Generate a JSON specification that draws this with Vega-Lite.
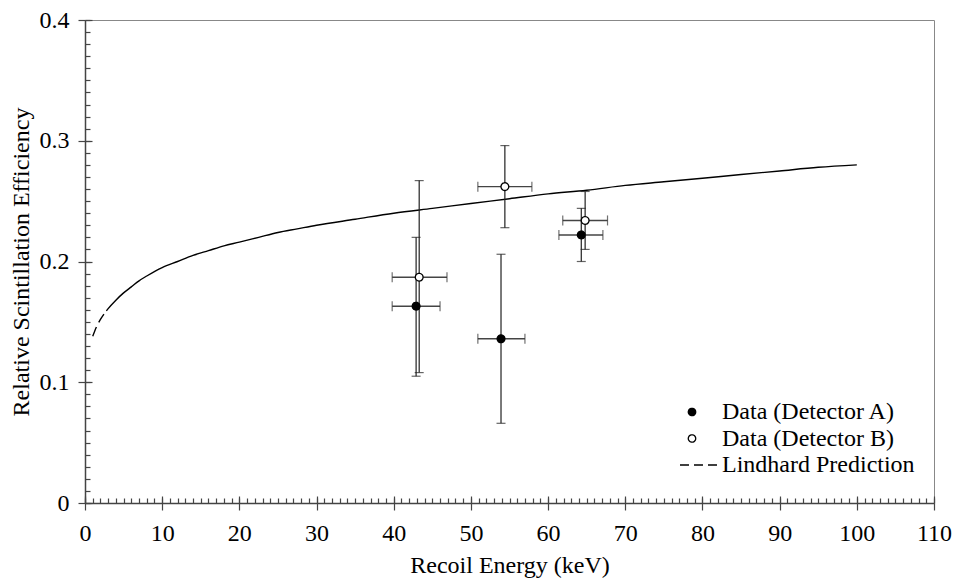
{
  "$schema": "https://vega.github.io/schema/vega-lite/v6.json",
  "width": 849,
  "height": 483,
  "autosize": {"type": "none"},
  "padding": {"left": 85, "top": 20, "right": 24, "bottom": 81},
  "background": "white",
  "config": {
    "font": "Liberation Serif",
    "view": {"stroke": "#888888", "strokeWidth": 1},
    "axis": {
      "grid": false,
      "domainColor": "#444444",
      "domainWidth": 1.5,
      "tickColor": "#444444",
      "tickWidth": 1.2,
      "labelFont": "Liberation Serif",
      "labelFontSize": 24,
      "labelColor": "black",
      "labelFlush": false,
      "labelOverlap": false,
      "titleFont": "Liberation Serif",
      "titleFontSize": 24,
      "titleFontWeight": "normal",
      "titleColor": "black"
    },
    "legend": {
      "labelFont": "Liberation Serif",
      "labelFontSize": 24,
      "labelColor": "black",
      "labelLimit": 400,
      "symbolSize": 55,
      "symbolStrokeWidth": 1.3,
      "rowPadding": 2.5,
      "padding": 0,
      "labelOffset": 18
    }
  },
  "datasets": {
    "curve": [
      {"E": 1, "q": 0.138},
      {"E": 1.5, "q": 0.146},
      {"E": 2, "q": 0.152},
      {"E": 3, "q": 0.161},
      {"E": 4, "q": 0.168},
      {"E": 5, "q": 0.174},
      {"E": 6, "q": 0.179},
      {"E": 7, "q": 0.184},
      {"E": 8, "q": 0.188},
      {"E": 10, "q": 0.195},
      {"E": 12, "q": 0.2},
      {"E": 14, "q": 0.205},
      {"E": 16, "q": 0.209},
      {"E": 18, "q": 0.213},
      {"E": 20, "q": 0.216},
      {"E": 22.5, "q": 0.22},
      {"E": 25, "q": 0.224},
      {"E": 27.5, "q": 0.227},
      {"E": 30, "q": 0.23},
      {"E": 35, "q": 0.235},
      {"E": 40, "q": 0.24},
      {"E": 45, "q": 0.244},
      {"E": 50, "q": 0.248},
      {"E": 55, "q": 0.252},
      {"E": 60, "q": 0.256},
      {"E": 65, "q": 0.259},
      {"E": 70, "q": 0.263},
      {"E": 75, "q": 0.266},
      {"E": 80, "q": 0.269},
      {"E": 85, "q": 0.272},
      {"E": 90, "q": 0.275},
      {"E": 95, "q": 0.278},
      {"E": 100, "q": 0.28}
    ],
    "pts": [
      {"series": "Data (Detector A)", "x": 42.9, "y": 0.163, "xlo": 39.8, "xhi": 46.0, "ylo": 0.105, "yhi": 0.22},
      {"series": "Data (Detector B)", "x": 43.3, "y": 0.187, "xlo": 39.8, "xhi": 46.9, "ylo": 0.108, "yhi": 0.267},
      {"series": "Data (Detector A)", "x": 53.9, "y": 0.136, "xlo": 50.9, "xhi": 57.0, "ylo": 0.066, "yhi": 0.206},
      {"series": "Data (Detector B)", "x": 54.4, "y": 0.262, "xlo": 50.9, "xhi": 57.9, "ylo": 0.228, "yhi": 0.296},
      {"series": "Data (Detector A)", "x": 64.3, "y": 0.222, "xlo": 61.4, "xhi": 67.1, "ylo": 0.2, "yhi": 0.244},
      {"series": "Data (Detector B)", "x": 64.8, "y": 0.234, "xlo": 61.9, "xhi": 67.7, "ylo": 0.21, "yhi": 0.258}
    ]
  },
  "resolve": {"axis": {"x": "independent", "y": "independent"}},
  "layer": [
    {
      "data": {"name": "curve"},
      "mark": {"type": "line", "color": "black", "strokeWidth": 1.4, "interpolate": "monotone", "strokeDash": [10, 5, 10, 4, 5000, 1]},
      "encoding": {
        "x": {
          "field": "E", "type": "quantitative",
          "scale": {"domain": [0, 110], "nice": false, "zero": false},
          "axis": {"orient": "bottom", "values": [0, 10, 20, 30, 40, 50, 60, 70, 80, 90, 100, 110], "format": "d", "tickSize": 7, "labelPadding": 11, "title": "Recoil Energy (keV)", "titlePadding": 8}
        },
        "y": {
          "field": "q", "type": "quantitative",
          "scale": {"domain": [0, 0.4], "nice": false, "zero": false},
          "axis": {"orient": "left", "values": [0, 0.1, 0.2, 0.3, 0.4], "format": ".1~f", "tickSize": 7, "labelPadding": 9, "title": "Relative Scintillation Efficiency", "titlePadding": 6}
        }
      }
    },
    {
      "data": {"name": "pts"},
      "mark": {"type": "rule", "color": "#222222", "strokeWidth": 1.2},
      "encoding": {
        "x": {"field": "x", "type": "quantitative", "axis": {"orient": "bottom", "tickCount": 11, "tickSize": -7, "labels": false, "domain": false, "title": null}},
        "y": {"field": "ylo", "type": "quantitative", "axis": {"orient": "left", "tickCount": 4, "tickSize": -7, "labels": false, "domain": false, "title": null}},
        "y2": {"field": "yhi"}
      }
    },
    {
      "data": {"name": "pts"},
      "mark": {"type": "rule", "color": "#444444", "strokeWidth": 1.4},
      "encoding": {
        "x": {"field": "xlo", "type": "quantitative", "axis": {"orient": "bottom", "tickCount": 110, "tickSize": -5, "labels": false, "domain": false, "title": null}},
        "x2": {"field": "xhi"},
        "y": {"field": "y", "type": "quantitative", "axis": {"orient": "left", "tickCount": 40, "tickSize": -5, "labels": false, "domain": false, "title": null}}
      }
    },
    {
      "data": {"name": "pts"},
      "mark": {"type": "tick", "orient": "vertical", "color": "#333333", "size": 10, "thickness": 1.2},
      "encoding": {
        "x": {"field": "xlo", "type": "quantitative", "axis": null},
        "y": {"field": "y", "type": "quantitative", "axis": null}
      }
    },
    {
      "data": {"name": "pts"},
      "mark": {"type": "tick", "orient": "vertical", "color": "#333333", "size": 10, "thickness": 1.2},
      "encoding": {
        "x": {"field": "xhi", "type": "quantitative", "axis": null},
        "y": {"field": "y", "type": "quantitative", "axis": null}
      }
    },
    {
      "data": {"name": "pts"},
      "mark": {"type": "tick", "orient": "horizontal", "color": "#222222", "size": 9, "thickness": 1.2},
      "encoding": {
        "x": {"field": "x", "type": "quantitative", "axis": null},
        "y": {"field": "ylo", "type": "quantitative", "axis": null}
      }
    },
    {
      "data": {"name": "pts"},
      "mark": {"type": "tick", "orient": "horizontal", "color": "#222222", "size": 9, "thickness": 1.2},
      "encoding": {
        "x": {"field": "x", "type": "quantitative", "axis": null},
        "y": {"field": "yhi", "type": "quantitative", "axis": null}
      }
    },
    {
      "data": {"name": "pts"},
      "mark": {"type": "point", "filled": true, "stroke": "black", "strokeWidth": 1.3, "size": 60, "opacity": 1},
      "encoding": {
        "x": {"field": "x", "type": "quantitative", "axis": null},
        "y": {"field": "y", "type": "quantitative", "axis": null},
        "fill": {
          "field": "series", "type": "nominal",
          "scale": {"domain": ["Data (Detector A)", "Data (Detector B)", "Lindhard Prediction"], "range": ["black", "white", "transparent"]},
          "legend": {"title": null, "orient": "none", "legendX": 595, "legendY": 380}
        },
        "shape": {
          "field": "series", "type": "nominal",
          "scale": {"domain": ["Data (Detector A)", "Data (Detector B)", "Lindhard Prediction"], "range": ["circle", "circle", "M-3.24,0H7"]},
          "legend": {"title": null, "orient": "none", "legendX": 595, "legendY": 380}
        },
        "strokeDash": {
          "field": "series", "type": "nominal",
          "scale": {"domain": ["Data (Detector A)", "Data (Detector B)", "Lindhard Prediction"], "range": [[1, 0], [1, 0], [9, 5]]},
          "legend": {"title": null, "orient": "none", "legendX": 595, "legendY": 380}
        }
      }
    }
  ]
}
